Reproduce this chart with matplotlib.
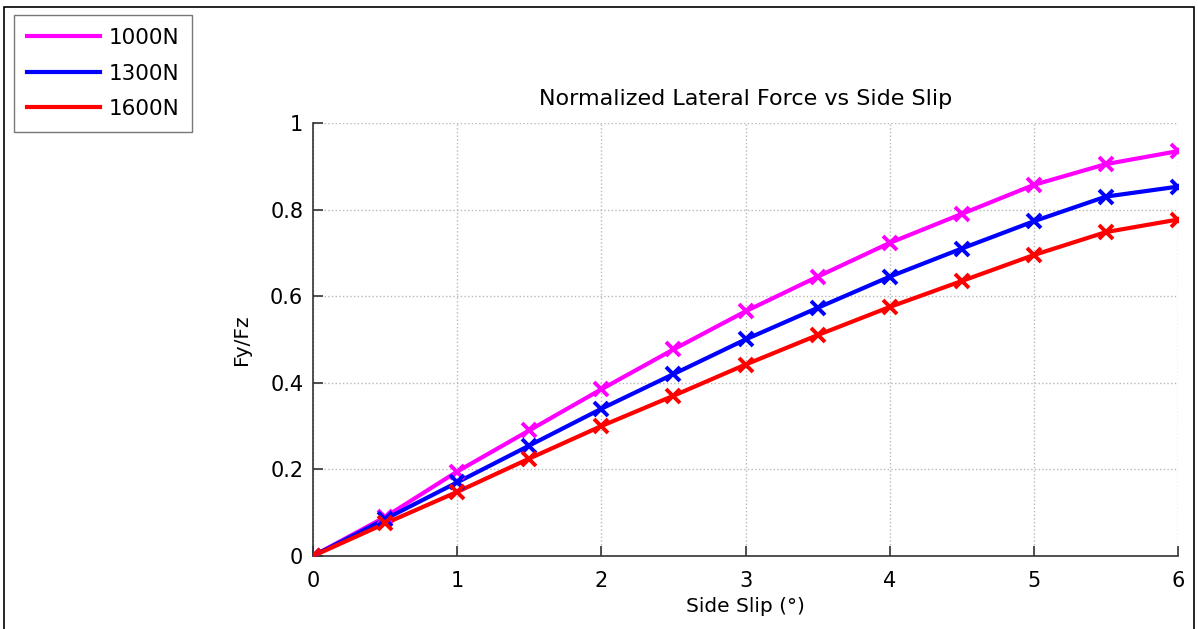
import matplotlib.pyplot as plt
from matplotlib.patches import Rectangle

plt.rcParams["font.family"] = ["DejaVu Sans"]

# side slip angle (deg) and normalized lateral force Fy/Fz per vertical load
slip = [0, 0.5, 1, 1.5, 2, 2.5, 3, 3.5, 4, 4.5, 5, 5.5, 6]
fy_1000 = [0, 0.090, 0.195, 0.290, 0.385, 0.477, 0.565, 0.645, 0.723, 0.790, 0.857, 0.905, 0.935]
fy_1300 = [0, 0.085, 0.170, 0.255, 0.340, 0.420, 0.500, 0.573, 0.645, 0.710, 0.773, 0.830, 0.853]
fy_1600 = [0, 0.075, 0.148, 0.225, 0.300, 0.370, 0.442, 0.510, 0.575, 0.635, 0.695, 0.748, 0.777]
loads = ["1000N", "1300N", "1600N"]
colors = ["#ff00ff", "#0000ff", "#ff0000"]

fig = plt.figure(figsize=(11.98, 6.29), dpi=100)
ax = fig.add_axes([0.2613, 0.1161, 0.722, 0.6884])

handles = []
for name, ys, col in zip(loads, [fy_1000, fy_1300, fy_1600], colors):
    ln, = ax.plot(slip, ys, color=col, lw=3.0, label=name, zorder=3)
    ax.plot(slip, ys, ls="none", marker="x", ms=10, mew=2.8, color=col, zorder=4)
    handles.append(ln)

ax.set_xlim(0, 6)
ax.set_ylim(0, 1)
ax.set_xticks(range(7))
ax.set_yticks([0, 0.2, 0.4, 0.6, 0.8, 1])
ax.set_yticklabels(["0", "0.2", "0.4", "0.6", "0.8", "1"])
ax.grid(True, ls=":", color="#b8b8b8", lw=1.0)
for s in ("top", "right"):
    ax.spines[s].set_visible(False)
for s in ("left", "bottom"):
    ax.spines[s].set_color("#333333")
    ax.spines[s].set_linewidth(1.2)
ax.tick_params(direction="in", length=7, width=1.2, color="#333333",
               labelsize=15, pad=7)
ax.tick_params(axis="x", pad=11)
ax.set_xlabel("Side Slip (°)", fontsize=14.5, labelpad=4)
ax.set_ylabel("Fy/Fz", fontsize=14.5, labelpad=14)
ax.set_title("Normalized Lateral Force vs Side Slip", fontsize=16, pad=13)

leg = fig.legend(handles=handles, loc="upper left", bbox_to_anchor=(0.0117, 0.976),
                 fontsize=15.5, frameon=True, fancybox=False, shadow=False,
                 handlelength=3.4, handletextpad=0.4, borderpad=0.6,
                 labelspacing=0.72, borderaxespad=0)
leg.get_frame().set_edgecolor("#555555")
leg.get_frame().set_linewidth(1.0)

# thin black border around the figure
fig.patches.append(Rectangle((4 / 1198, -0.01), 1190 / 1198, 1 - 7 / 629 + 0.01,
                             transform=fig.transFigure, fill=False,
                             edgecolor="black", lw=1.2))

fig.savefig("out.png", dpi=100, facecolor="white")
